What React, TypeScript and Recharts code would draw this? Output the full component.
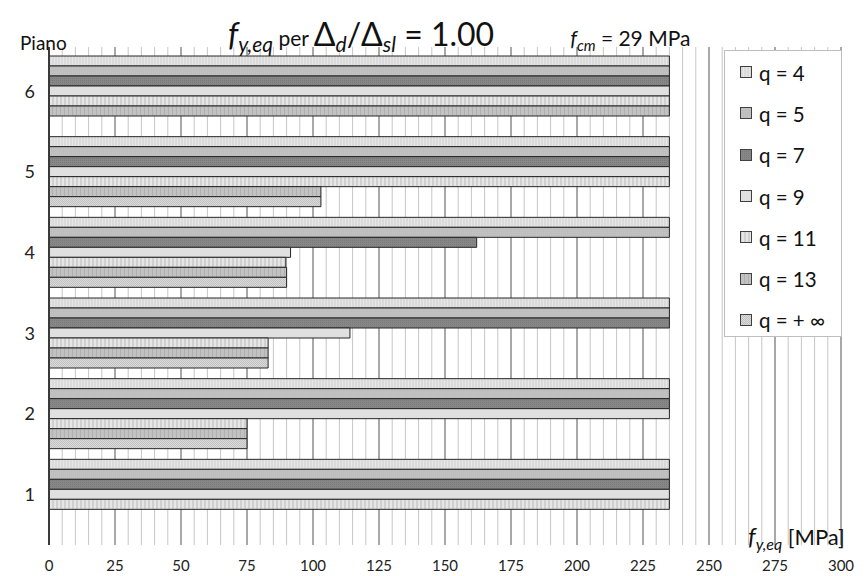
import React from 'react';
import { BarChart, Bar, XAxis, YAxis, CartesianGrid } from 'recharts';

// piani dall'alto verso il basso
const piani = ['6', '5', '4', '3', '2', '1'];

// f_y,eq [MPa] per ogni valore di q
const q4 = [235, 235, 235, 235, 235, 235];
const q5 = [235, 235, 235, 235, 235, 235];
const q7 = [235, 235, 162, 235, 235, 235];
const q9 = [235, 235, 91.5, 114, 235, 235];
const q11 = [235, 235, 89.7, 83, 75, 235];
const q13 = [235, 103, 90, 83, 75, null];
const qInf = [null, 103, 90, 83, 75, null];

const xDomain = [0, 300];
const xTicks = [0, 25, 50, 75, 100, 125, 150, 175, 200, 225, 250, 275, 300];
const minorTicks = Array.from({ length: 61 }, (_, i) => i * 5);

const series = [
  { key: 'q4', name: 'q = 4', values: q4, fill: 'url(#p4)' },
  { key: 'q5', name: 'q = 5', values: q5, fill: 'url(#p5)' },
  { key: 'q7', name: 'q = 7', values: q7, fill: 'url(#p7)' },
  { key: 'q9', name: 'q = 9', values: q9, fill: 'url(#p9)' },
  { key: 'q11', name: 'q = 11', values: q11, fill: 'url(#p11)' },
  { key: 'q13', name: 'q = 13', values: q13, fill: 'url(#p13)' },
  { key: 'qInf', name: 'q = + \u221E', values: qInf, fill: 'url(#pInf)' },
];

const data = piani.map((piano, i) => {
  const row: { [k: string]: string | number | null } = { piano };
  series.forEach(s => { row[s.key] = s.values[i]; });
  return row;
});

const font = 'Lato, "Noto Sans", sans-serif';

// x positions of grid lines from the axis scale (fallback: same linear domain over the plot width)
const gridAt = (values: number[]) => (props: any) => {
  const { xAxis, offset } = props;
  if (xAxis && typeof xAxis.scale === 'function') {
    return values.map(v => xAxis.scale(v));
  }
  return values.map(v => offset.left + ((v - xDomain[0]) / (xDomain[1] - xDomain[0])) * offset.width);
};

function Patterns() {
  return (
    <defs>
      <pattern id="p4" width="3" height="3" patternUnits="userSpaceOnUse">
        <rect width="3" height="3" fill="#dadada" />
        <rect width="1" height="3" fill="#e6e6e6" />
      </pattern>
      <pattern id="p5" width="2" height="2" patternUnits="userSpaceOnUse">
        <rect width="2" height="2" fill="#bebebe" />
        <rect width="1" height="1" fill="#c4c4c4" />
      </pattern>
      <pattern id="p7" width="2" height="2" patternUnits="userSpaceOnUse">
        <rect width="2" height="2" fill="#878787" />
        <rect width="1" height="1" fill="#7a7a7a" />
      </pattern>
      <pattern id="p9" width="2" height="2" patternUnits="userSpaceOnUse">
        <rect width="2" height="2" fill="#e0e0e0" />
      </pattern>
      <pattern id="p11" width="4" height="4" patternUnits="userSpaceOnUse">
        <rect width="4" height="4" fill="#e6e6e6" />
        <rect width="2" height="4" fill="#d0d0d0" />
      </pattern>
      <pattern id="p13" width="4" height="4" patternUnits="userSpaceOnUse">
        <rect width="4" height="4" fill="#c2c2c2" />
        <rect width="1" height="4" fill="#b0b0b0" />
      </pattern>
      <pattern id="pInf" width="2" height="2" patternUnits="userSpaceOnUse">
        <rect width="2" height="2" fill="#dadada" />
        <rect width="1" height="1" fill="#c2c2c2" />
        <rect x="1" y="1" width="1" height="1" fill="#c2c2c2" />
      </pattern>
    </defs>
  );
}

function LegendBox() {
  return (
    <div
      style={{
        position: 'absolute',
        left: 724,
        top: 50,
        width: 118,
        height: 287,
        border: '1px solid #bdbdbd',
        background: '#fff',
        boxSizing: 'border-box',
        paddingTop: 1,
        fontFamily: font,
      }}
    >
      {series.map(s => (
        <div key={s.key} style={{ display: 'flex', alignItems: 'center', height: 41.3, paddingLeft: 15 }}>
          <svg width={13} height={13} style={{ marginRight: 6 }}>
            <rect x={0.5} y={0.5} width={11} height={11} fill={s.fill} stroke="#404040" />
          </svg>
          <span style={{ fontSize: 20.5, color: '#111' }}>{s.name}</span>
        </div>
      ))}
    </div>
  );
}

export default function App() {
  return (
    <div style={{ position: 'absolute', left: 0, top: 0, width: 867, height: 576, background: '#fff', fontFamily: font }}>
      <svg width={0} height={0} style={{ position: 'absolute' }}>
        <Patterns />
      </svg>
      <BarChart
        width={867}
        height={576}
        data={data}
        layout="vertical"
        margin={{ top: 47, right: 26, bottom: 0, left: 0 }}
        barCategoryGap={5}
        barGap={0}
      >
        <CartesianGrid horizontal={false} stroke="#c6c6c6" verticalCoordinatesGenerator={gridAt(minorTicks)} />
        <CartesianGrid horizontal={false} stroke="#6e6e6e" verticalCoordinatesGenerator={gridAt(xTicks)} />
        <XAxis
          type="number"
          domain={xDomain}
          ticks={xTicks}
          height={31}
          axisLine={false}
          tickLine={false}
          tickMargin={9}
          tick={{ fill: '#222', fontSize: 15, fontFamily: font }}
        />
        <YAxis
          type="category"
          dataKey="piano"
          width={49}
          padding={{ top: 4, bottom: 10 }}
          axisLine={{ stroke: '#3a3a3a', strokeWidth: 2 }}
          tickLine={false}
          tickMargin={8}
          tick={{ fill: '#222', fontSize: 18, fontFamily: font }}
        />
        {series.map(s => (
          <Bar
            key={s.key}
            dataKey={s.key}
            name={s.name}
            fill={s.fill}
            stroke="#262626"
            strokeWidth={1}
            isAnimationActive={false}
          />
        ))}
      </BarChart>

      <LegendBox />

      <div style={{ position: 'absolute', left: 20, top: 31, fontSize: 19, color: '#111' }}>Piano</div>

      <div style={{ position: 'absolute', left: 228, top: 18, whiteSpace: 'nowrap', color: '#111', lineHeight: 1 }}>
        <span style={{ fontSize: 32, fontStyle: 'italic' }}>f</span>
        <sub style={{ fontSize: 21, fontStyle: 'italic', verticalAlign: -6 }}>y,eq</sub>
        <span style={{ fontSize: 21 }}> per </span>
        <span style={{ fontSize: 32 }}>&Delta;</span>
        <sub style={{ fontSize: 21, fontStyle: 'italic', verticalAlign: -6 }}>d</sub>
        <span style={{ fontSize: 32 }}>/&Delta;</span>
        <sub style={{ fontSize: 21, fontStyle: 'italic', verticalAlign: -6 }}>sl</sub>
        <span style={{ fontSize: 32 }}> = 1.00</span>
        <span style={{ display: 'inline-block', width: 76 }} />
        <span style={{ fontSize: 21, fontStyle: 'italic' }}>f</span>
        <sub style={{ fontSize: 15, fontStyle: 'italic', verticalAlign: -5 }}>cm</sub>
        <span style={{ fontSize: 21 }}> = 29 MPa</span>
      </div>

      <div style={{ position: 'absolute', left: 748, top: 524, whiteSpace: 'nowrap', color: '#111', lineHeight: 1 }}>
        <span style={{ fontSize: 24, fontStyle: 'italic' }}>f</span>
        <sub style={{ fontSize: 16, fontStyle: 'italic', verticalAlign: -5 }}>y,eq</sub>
        <span style={{ fontSize: 22 }}> [MPa]</span>
      </div>
    </div>
  );
}
